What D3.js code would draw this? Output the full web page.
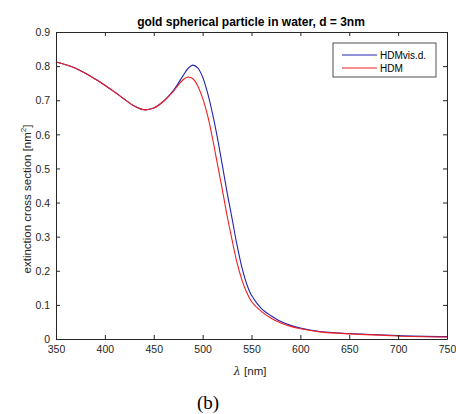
<!DOCTYPE html>
<html>
<head>
<meta charset="utf-8">
<script src="https://cdn.jsdelivr.net/npm/d3@7"></script>
<style>
  body { margin: 0; background: #fff; }
  text { font-family: Arial, "Liberation Sans", sans-serif; }
</style>
</head>
<body>
<div id="chart"></div>
<script>
// wavelength [nm]
const lambda = [350, 360, 370, 380, 390, 400, 410, 420, 430, 440, 450, 460, 470, 480, 485, 490, 495, 500,
  505, 510, 515, 520, 525, 530, 535, 540, 545, 550, 560, 570, 580, 590, 600, 620, 650, 700, 750];

// extinction cross section [nm^2], HDM with viscous damping
const hdmVis = [0.812, 0.804, 0.794, 0.779, 0.762, 0.744, 0.724, 0.703, 0.683, 0.672, 0.677, 0.697, 0.728, 0.772, 0.793, 0.803, 0.795, 0.768,
  0.722, 0.662, 0.592, 0.512, 0.430, 0.355, 0.278, 0.212, 0.162, 0.128, 0.090, 0.068, 0.051, 0.040, 0.032, 0.022, 0.016, 0.010, 0.007];

// extinction cross section [nm^2], HDM
const hdm = [0.812, 0.804, 0.794, 0.779, 0.762, 0.744, 0.724, 0.703, 0.683, 0.672, 0.677, 0.697, 0.726, 0.760, 0.768, 0.763, 0.742, 0.706,
  0.656, 0.590, 0.515, 0.440, 0.362, 0.292, 0.226, 0.175, 0.137, 0.110, 0.081, 0.061, 0.047, 0.037, 0.030, 0.021, 0.015, 0.009, 0.006];

const xTicks = [350, 400, 450, 500, 550, 600, 650, 700, 750];
const yTicks = [0, 0.1, 0.2, 0.3, 0.4, 0.5, 0.6, 0.7, 0.8, 0.9];

const series = [
  { name: "HDMvis.d.", values: hdmVis, color: "#2424b4" },
  { name: "HDM", values: hdm, color: "#ee2020" }
];

const width = 456, height = 414;
const margin = { top: 32, right: 9, bottom: 75, left: 56 };
const plotW = width - margin.left - margin.right;
const plotH = height - margin.top - margin.bottom;
const axisColor = "#262626";

const svg = d3.select("#chart").append("svg")
  .attr("width", width)
  .attr("height", height);

const g = svg.append("g")
  .attr("transform", `translate(${margin.left},${margin.top})`);

let xScale = d3.scaleLinear().domain([350, 750]).range([0, plotW]);
let yScale = d3.scaleLinear().domain([0, 0.9]).range([plotH, 0]);

// curves
const drawLine = d3.line()
  .x((d) => xScale(d[0]))
  .y((d) => yScale(d[1]))
  .curve(d3.curveCatmullRom.alpha(0.5));

series.forEach(function (s) {
  g.append("path")
    .attr("d", drawLine(lambda.map((l, i) => [l, s.values[i]])))
    .attr("fill", "none")
    .attr("stroke", s.color)
    .attr("stroke-width", 1.1);
});

// axes (Matlab style: ticks inside, box on)
let xAxis = d3.axisBottom(xScale).tickValues(xTicks).tickSizeInner(-4).tickSizeOuter(0).tickPadding(7);
let yAxis = d3.axisLeft(yScale).tickValues(yTicks).tickSizeInner(-4).tickSizeOuter(0).tickPadding(6)
  .tickFormat((d) => d === 0 ? "0" : d3.format(".1f")(d));

const xg = g.append("g").attr("transform", `translate(0,${plotH})`).call(xAxis);
const yg = g.append("g").call(yAxis);
const xTop = g.append("g").call(d3.axisTop(xScale).tickValues(xTicks).tickSizeInner(-4).tickSizeOuter(0).tickFormat(""));
const yRight = g.append("g").attr("transform", `translate(${plotW},0)`)
  .call(d3.axisRight(yScale).tickValues(yTicks).tickSizeInner(-4).tickSizeOuter(0).tickFormat(""));

[xg, yg, xTop, yRight].forEach(function (a) {
  a.select(".domain").attr("stroke", axisColor).attr("stroke-width", 1);
  a.selectAll(".tick line").attr("stroke", axisColor);
  a.selectAll("text").attr("fill", axisColor).style("font-size", "10.5px");
});
yg.selectAll(".tick text").attr("dy", "0.35em");

// legend
const legend = g.append("g").attr("transform", `translate(${333 - margin.left},${43 - margin.top})`);
legend.append("rect")
  .attr("width", 103).attr("height", 34)
  .attr("fill", "#fff").attr("stroke", axisColor).attr("stroke-width", 0.8);
series.forEach(function (s, i) {
  const yy = 12 + i * 13;
  legend.append("line")
    .attr("x1", 9).attr("x2", 44).attr("y1", yy).attr("y2", yy)
    .attr("stroke", s.color).attr("stroke-width", 1.1);
  legend.append("text")
    .attr("x", 47).attr("y", yy).attr("dy", "0.35em")
    .style("font-size", "10px").attr("fill", "#000")
    .text(s.name);
});

// title and labels
svg.append("text")
  .attr("x", 251).attr("y", 26)
  .attr("text-anchor", "middle")
  .style("font-size", "12px").style("font-weight", "bold")
  .text("gold spherical particle in water, d = 3nm");

const xl = svg.append("text")
  .attr("x", 250).attr("y", 375)
  .attr("text-anchor", "middle")
  .style("font-size", "11.5px").attr("fill", axisColor);
xl.append("tspan").style("font-style", "italic").style("font-family", "'DejaVu Serif', serif").text("λ");
xl.append("tspan").text(" [nm]");

const yl = svg.append("text")
  .attr("transform", "translate(31,199) rotate(-90)")
  .attr("text-anchor", "middle")
  .style("font-size", "11.5px").attr("fill", axisColor);
yl.append("tspan").text("extinction cross section [nm");
yl.append("tspan").attr("dy", "-5").style("font-size", "8px").text("2");
yl.append("tspan").attr("dy", "5").text("]");

svg.append("text")
  .attr("x", 208).attr("y", 409)
  .attr("text-anchor", "middle")
  .style("font-family", "'Liberation Serif', 'DejaVu Serif', serif")
  .style("font-size", "19px")
  .text("(b)");
</script>
</body>
</html>
